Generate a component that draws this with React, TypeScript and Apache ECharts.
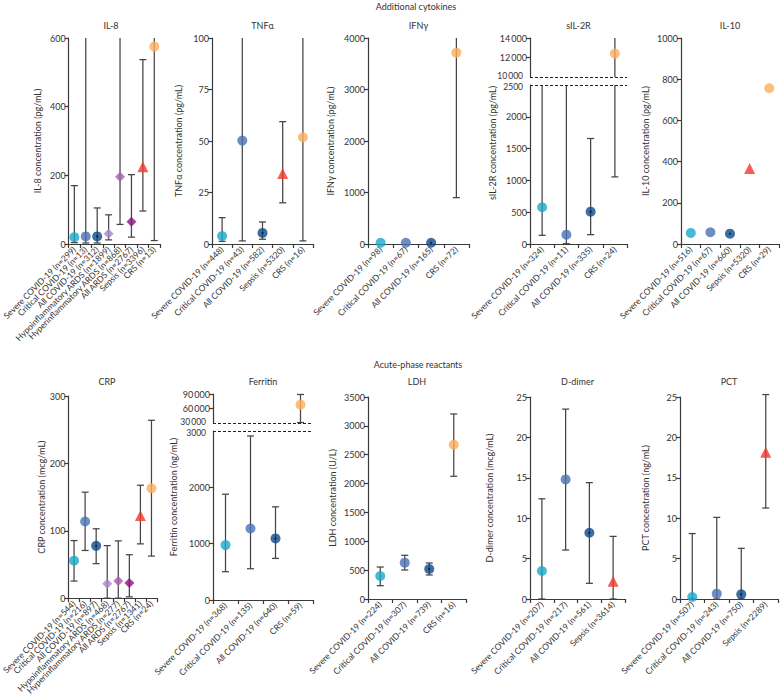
import React, { useEffect, useRef } from "react";
import * as echarts from "echarts";

const FONT = "Lato, 'Noto Sans', sans-serif";
const AXIS = "#3a3a3a";
const TEXT = "#333333";
const BAR = "#454545";

const groupColor: Record<string, string> = {
  severe: "#1aa7c9",
  critical: "#4a71b7",
  all: "#0b4a8b",
  hypo: "#a487c9",
  hyper: "#a35fae",
  allArds: "#8b137f",
  sepsis: "#f2362a",
  crs: "#fbae5d",
};
const groupSymbol: Record<string, string> = {
  severe: "circle",
  critical: "circle",
  all: "circle",
  hypo: "diamond",
  hyper: "diamond",
  allArds: "diamond",
  sepsis: "triangle",
  crs: "circle",
};

// ---------- IL-8 ----------
const il8Cats = [
  "Severe COVID-19 (n=299)",
  "Critical COVID-19 (n=13)",
  "All COVID-19 (n=312)",
  "Hypoinflammatory ARDS (n=1899)",
  "Hyperinflammatory ARDS (n=868)",
  "All ARDS (n=2767)",
  "Sepsis (n=3396)",
  "CRS (n=13)",
];
const il8Groups = ["severe", "critical", "all", "hypo", "hyper", "allArds", "sepsis", "crs"];
const il8Median = [20, 22, 22, 30, 196, 65, 225, 575];
const il8Low: (number | null)[] = [4, 3, 3, 12, 57, 20, 96, 10];
const il8High: (number | null)[] = [170, null, 105, 85, null, 202, 537, null];

// ---------- TNFα ----------
const tnfCats = [
  "Severe COVID-19 (n=448)",
  "Critical COVID-19 (n=43)",
  "All COVID-19 (n=582)",
  "Sepsis (n=5320)",
  "CRS (n=16)",
];
const tnfGroups = ["severe", "critical", "all", "sepsis", "crs"];
const tnfMedian = [3.9, 50.2, 5.4, 34.2, 51.8];
const tnfLow: (number | null)[] = [1.3, 1.5, 2.3, 20, 1.5];
const tnfHigh: (number | null)[] = [12.8, null, 10.7, 59.4, null];

// ---------- IFNγ ----------
const ifnCats = [
  "Severe COVID-19 (n=98)",
  "Critical COVID-19 (n=67)",
  "All COVID-19 (n=165)",
  "CRS (n=72)",
];
const ifnGroups = ["severe", "critical", "all", "crs"];
const ifnMedian = [25, 25, 25, 3715];
const ifnLow: (number | null)[] = [null, null, null, 900];
const ifnHigh: (number | null)[] = [null, null, null, null];

// ---------- sIL-2R ----------
const il2rCats = [
  "Severe COVID-19 (n=324)",
  "Critical COVID-19 (n=11)",
  "All COVID-19 (n=335)",
  "CRS (n=24)",
];
const il2rGroups = ["severe", "critical", "all", "crs"];
const il2rMedian = [578, 147, 509, 12400];
const il2rLow: (number | null)[] = [137, 5, 147, 1055];
const il2rHigh: (number | null)[] = [null, null, 1659, null];

// ---------- IL-10 ----------
const il10Cats = [
  "Severe COVID-19 (n=516)",
  "Critical COVID-19 (n=67)",
  "All COVID-19 (n=660)",
  "Sepsis (n=5320)",
  "CRS (n=29)",
];
const il10Groups = ["severe", "critical", "all", "sepsis", "crs"];
const il10Median = [54, 57, 50, 367, 756];
const il10Low: (number | null)[] = [null, null, null, null, null];
const il10High: (number | null)[] = [null, null, null, null, null];

// ---------- CRP ----------
const crpCats = [
  "Severe COVID-19 (n=544)",
  "Critical COVID-19 (n=216)",
  "All COVID-19 (n=897)",
  "Hypoinflammatory ARDS (n=468)",
  "Hyperinflammatory ARDS (n=277)",
  "All ARDS (n=2767)",
  "Sepsis (n=1341)",
  "CRS (n=24)",
];
const crpGroups = ["severe", "critical", "all", "hypo", "hyper", "allArds", "sepsis", "crs"];
const crpMedian = [55.7, 113.8, 77.7, 21.5, 25.4, 22.5, 122.6, 163];
const crpLow: (number | null)[] = [25.4, 70.8, 51.3, 0, 0, 2, 80.6, 62.5];
const crpHigh: (number | null)[] = [85.5, 157.3, 103, 78, 85, 64.5, 167.6, 264];

// ---------- Ferritin ----------
const ferCats = [
  "Severe COVID-19 (n=368)",
  "Critical COVID-19 (n=135)",
  "All COVID-19 (n=640)",
  "CRS (n=59)",
];
const ferGroups = ["severe", "critical", "all", "crs"];
const ferMedian = [975, 1270, 1093, 68000];
const ferLow: (number | null)[] = [502, 555, 738, 31000];
const ferHigh: (number | null)[] = [1878, 2912, 1654, 89000];

// ---------- LDH ----------
const ldhCats = [
  "Severe COVID-19 (n=224)",
  "Critical COVID-19 (n=307)",
  "All COVID-19 (n=739)",
  "CRS (n=16)",
];
const ldhGroups = ["severe", "critical", "all", "crs"];
const ldhMedian = [398, 630, 520, 2674];
const ldhLow: (number | null)[] = [231, 503, 416, 2126];
const ldhHigh: (number | null)[] = [554, 757, 624, 3206];

// ---------- D-dimer ----------
const ddCats = [
  "Severe COVID-19 (n=207)",
  "Critical COVID-19 (n=217)",
  "All COVID-19 (n=561)",
  "Sepsis (n=3614)",
];
const ddGroups = ["severe", "critical", "all", "sepsis"];
const ddMedian = [3.47, 14.8, 8.2, 2.2];
const ddLow: (number | null)[] = [0, 6.06, 1.94, 0];
const ddHigh: (number | null)[] = [12.4, 23.5, 14.4, 7.75];

// ---------- PCT ----------
const pctCats = [
  "Severe COVID-19 (n=507)",
  "Critical COVID-19 (n=243)",
  "All COVID-19 (n=750)",
  "Sepsis (n=2289)",
];
const pctGroups = ["severe", "critical", "all", "sepsis"];
const pctMedian = [0.25, 0.66, 0.58, 18.15];
const pctLow: (number | null)[] = [0, 0, 0, 11.26];
const pctHigh: (number | null)[] = [8.1, 10.1, 6.27, 25.3];

type Panel = {
  title: string;
  name: string;
  cats: string[];
  groups: string[];
  median: number[];
  low: (number | null)[];
  high: (number | null)[];
  min: number;
  max: number;
  interval: number;
  left: number;
  top: number;
  width: number;
  height: number;
  titleY: number;
  nameGap?: number;
  nameX?: number;
  nameY?: number;
  upper?: { min: number; max: number; interval: number; top: number; height: number };
};

const panels: Panel[] = [
  { title: "IL-8", name: "IL-8 concentration (pg/mL)", cats: il8Cats, groups: il8Groups, median: il8Median, low: il8Low, high: il8High, min: 0, max: 600, interval: 200, left: 62, top: 38, width: 98, height: 206, titleY: 25, nameGap: 27 },
  { title: "TNFα", name: "TNFα concentration (pg/mL)", cats: tnfCats, groups: tnfGroups, median: tnfMedian, low: tnfLow, high: tnfHigh, min: 0, max: 100, interval: 25, left: 212, top: 38, width: 101, height: 206, titleY: 25, nameGap: 29 },
  { title: "IFNγ", name: "IFNγ concentration (pg/mL)", cats: ifnCats, groups: ifnGroups, median: ifnMedian, low: ifnLow, high: ifnHigh, min: 0, max: 4000, interval: 1000, left: 368, top: 38, width: 101, height: 206, titleY: 25, nameGap: 33 },
  { title: "sIL-2R", name: "sIL-2R concentration (pg/mL)", cats: il2rCats, groups: il2rGroups, median: il2rMedian, low: il2rLow, high: il2rHigh, min: 0, max: 2500, interval: 500, left: 530, top: 85, width: 97, height: 159, titleY: 25, nameX: 492, nameY: 143, upper: { min: 10000, max: 14000, interval: 2000, top: 38, height: 39 } },
  { title: "IL-10", name: "IL-10 concentration (pg/mL)", cats: il10Cats, groups: il10Groups, median: il10Median, low: il10Low, high: il10High, min: 0, max: 1000, interval: 200, left: 681, top: 38, width: 98, height: 206, titleY: 25, nameGap: 31 },
  { title: "CRP", name: "CRP concentration (mcg/mL)", cats: crpCats, groups: crpGroups, median: crpMedian, low: crpLow, high: crpHigh, min: 0, max: 300, interval: 100, left: 57, top: 396, width: 100, height: 205, titleY: 381, nameGap: 21 },
  { title: "Ferritin", name: "Ferritin concentration (ng/mL)", cats: ferCats, groups: ferGroups, median: ferMedian, low: ferLow, high: ferHigh, min: 0, max: 3000, interval: 1000, left: 213, top: 431, width: 100, height: 169, titleY: 381, nameX: 173, nameY: 497, upper: { min: 30000, max: 90000, interval: 30000, top: 394, height: 29 } },
  { title: "LDH", name: "LDH concentration (U/L)", cats: ldhCats, groups: ldhGroups, median: ldhMedian, low: ldhLow, high: ldhHigh, min: 0, max: 3500, interval: 500, left: 368, top: 397, width: 98, height: 202, titleY: 381, nameGap: 31 },
  { title: "D-dimer", name: "D-dimer concentration (mcg/mL)", cats: ddCats, groups: ddGroups, median: ddMedian, low: ddLow, high: ddHigh, min: 0, max: 25, interval: 5, left: 530, top: 397, width: 95, height: 202, titleY: 381, nameGap: 36 },
  { title: "PCT", name: "PCT concentration (ng/mL)", cats: pctCats, groups: pctGroups, median: pctMedian, low: pctLow, high: pctHigh, min: 0, max: 25, interval: 5, left: 680, top: 397, width: 98, height: 202, titleY: 381, nameGap: 30 },
];

const fmt = (v: number) =>
  v >= 10000 ? String(v).replace(/\B(?=(\d{3})+(?!\d))/g, "\u2009") : String(v);

const renderBar = (_params: any, api: any) => {
  const i = api.value(0);
  const a = api.coord([i, api.value(1)]);
  const b = api.coord([i, api.value(2)]);
  const hw = 3.5;
  const st = { stroke: BAR, lineWidth: 1.25 };
  const ch: any[] = [
    { type: "line", shape: { x1: a[0], y1: a[1], x2: b[0], y2: b[1] }, style: st },
  ];
  if (api.value(3)) ch.push({ type: "line", shape: { x1: a[0] - hw, y1: a[1], x2: a[0] + hw, y2: a[1] }, style: st });
  if (api.value(4)) ch.push({ type: "line", shape: { x1: b[0] - hw, y1: b[1], x2: b[0] + hw, y2: b[1] }, style: st });
  return { type: "group", children: ch };
};

type BreakLabel = { yAxisIndex: number; value: number; x: number; dy: number };

function buildOption() {
  const grid: any[] = [];
  const xAxis: any[] = [];
  const yAxis: any[] = [];
  const series: any[] = [];
  const graphic: any[] = [];
  const breakLabels: BreakLabel[] = [];
  let gid = 0;
  const text = (x: number, y: number, t: string, rot = 0) => ({
    id: "g" + gid++,
    type: "text",
    x,
    y,
    rotation: rot,
    style: { text: t, fontSize: 9, fontFamily: FONT, fill: TEXT, align: "center", verticalAlign: "middle" },
  });

  const addAxes = (p: Panel, top: number, height: number, min: number, max: number, interval: number, showX: boolean, name: string, hideMin: boolean, hideMax: boolean) => {
    const gi = grid.length;
    grid.push({ left: p.left, top, width: p.width, height });
    xAxis.push({
      gridIndex: gi,
      type: "category",
      data: p.cats,
      show: showX,
      axisLine: { show: true, lineStyle: { color: AXIS, width: 1.2 } },
      axisTick: { show: true, length: 4, alignWithLabel: false, lineStyle: { color: AXIS, width: 1.2 } },
      axisLabel: { interval: 0, rotate: 45, fontSize: 8.5, color: TEXT, margin: 4, fontFamily: FONT, hideOverlap: false },
      splitLine: { show: false },
    });
    yAxis.push({
      gridIndex: gi,
      type: "value",
      min,
      max,
      interval,
      name,
      nameLocation: "middle",
      nameGap: p.nameGap || 30,
      nameTextStyle: { fontSize: 9, color: TEXT, fontFamily: FONT },
      axisLine: { show: true, lineStyle: { color: AXIS, width: 1.2 } },
      axisTick: { show: true, length: 4, lineStyle: { color: AXIS, width: 1.2 } },
      axisLabel: {
        fontSize: 9,
        color: TEXT,
        margin: 3,
        fontFamily: FONT,
        formatter: fmt,
        showMinLabel: !hideMin,
        showMaxLabel: !hideMax,
      },
      splitLine: { show: false },
    });
    return gi;
  };

  const pointItem = (i: number, v: number, g: string) => ({
    value: [i, v],
    symbol: groupSymbol[g],
    symbolSize: g === "sepsis" ? 11 : 10,
    itemStyle: { color: groupColor[g] },
  });
  const dotItem = (i: number, v: number) => ({ value: [i, v], symbol: "circle", symbolSize: 2.2, itemStyle: { color: "#111" } });
  const dashLine = (v: number) => ({
    silent: true,
    symbol: "none",
    label: { show: false },
    lineStyle: { type: [3, 2], color: "#222", width: 1 },
    data: [{ yAxis: v }],
  });

  panels.forEach((p) => {
    const broken = !!p.upper;
    const gi = addAxes(p, p.top, p.height, p.min, p.max, p.interval, true, broken ? "" : p.name, false, broken);
    const bars: any[] = [];
    const pts: any[] = [];
    const dots: any[] = [];
    p.cats.forEach((_c, i) => {
      const lo = p.low[i];
      const hi = p.high[i];
      if (lo != null && lo < p.max) {
        const top = hi == null ? p.max : broken ? Math.min(hi, p.max) : hi;
        const capHi = hi != null && (!broken || hi <= p.max) ? 1 : 0;
        bars.push([i, lo, top, 1, capHi]);
      }
      if (p.median[i] <= p.max) {
        pts.push(pointItem(i, p.median[i], p.groups[i]));
        if (p.groups[i] === "all") dots.push(dotItem(i, p.median[i]));
      }
    });
    series.push({ type: "custom", xAxisIndex: gi, yAxisIndex: gi, renderItem: renderBar, data: bars, z: 2, silent: true });
    const sc: any = { type: "scatter", xAxisIndex: gi, yAxisIndex: gi, data: pts, z: 3, silent: true };
    if (broken) sc.markLine = dashLine(p.max);
    series.push(sc);
    series.push({ type: "scatter", xAxisIndex: gi, yAxisIndex: gi, data: dots, z: 4, silent: true });

    if (p.upper) {
      const u = p.upper;
      breakLabels.push({ yAxisIndex: gi, value: p.max, x: p.left - 7, dy: 1.5 });
      const gu = addAxes(p, u.top, u.height, u.min, u.max, u.interval, false, "", true, false);
      breakLabels.push({ yAxisIndex: gu, value: u.min, x: p.left - 7, dy: -1.5 });
      const ub: any[] = [];
      const up: any[] = [];
      p.cats.forEach((_c, i) => {
        if (p.median[i] >= u.min) {
          const lo = p.low[i];
          const hi = p.high[i];
          if (lo != null) {
            ub.push([i, Math.max(lo, u.min), hi == null ? u.max : hi, lo >= u.min ? 1 : 0, hi == null ? 0 : 1]);
          }
          up.push(pointItem(i, p.median[i], p.groups[i]));
        }
      });
      series.push({ type: "custom", xAxisIndex: gu, yAxisIndex: gu, renderItem: renderBar, data: ub, z: 2, silent: true });
      series.push({ type: "scatter", xAxisIndex: gu, yAxisIndex: gu, data: up, z: 3, silent: true, markLine: dashLine(u.min) });
      graphic.push(text(p.nameX as number, p.nameY as number, p.name, Math.PI / 2));
    }

    graphic.push(text(p.left + p.width / 2, p.titleY, p.title));
  });

  graphic.push(text(416, 6, "Additional cytokines"));
  graphic.push(text(418, 364, "Acute-phase reactants"));

  return {
    option: {
      animation: false,
      backgroundColor: "#ffffff",
      textStyle: { fontFamily: FONT },
      grid,
      xAxis,
      yAxis,
      series,
      graphic,
    },
    breakLabels,
  };
}

export default function App() {
  const ref = useRef<HTMLDivElement>(null);
  useEffect(() => {
    if (!ref.current) return;
    const chart = echarts.init(ref.current, undefined, { renderer: "svg" });
    const { option, breakLabels } = buildOption();
    chart.setOption(option as any);
    const extra = breakLabels.map((b, k) => {
      const y = chart.convertToPixel({ yAxisIndex: b.yAxisIndex } as any, b.value) as unknown as number;
      return {
        id: "brk" + k,
        type: "text",
        x: b.x,
        y: y + b.dy,
        style: {
          text: fmt(b.value),
          fontSize: 8.5,
          fontFamily: FONT,
          fill: TEXT,
          align: "right",
          verticalAlign: "middle",
        },
      };
    });
    chart.setOption({ graphic: extra } as any);
    return () => chart.dispose();
  }, []);
  return (
    <div
      ref={ref}
      style={{ position: "absolute", left: 0, top: 0, width: 780, height: 698, background: "#fff" }}
    />
  );
}
